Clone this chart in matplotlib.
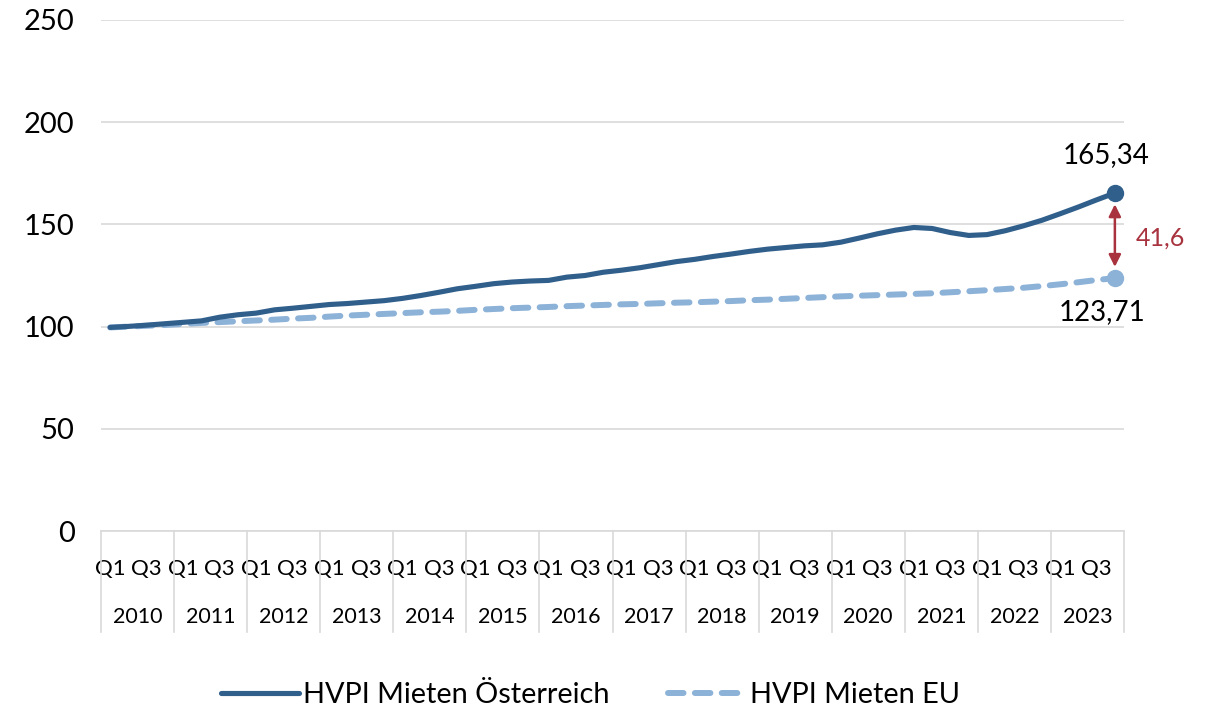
import matplotlib
matplotlib.use("Agg")
import matplotlib.pyplot as plt
from matplotlib.transforms import blended_transform_factory

plt.rcParams['font.family'] = ['Lato', 'DejaVu Sans']

years = list(range(2010, 2024))
quarters = ["Q1", "Q2", "Q3", "Q4"]

austria = [99.6, 100.1, 100.7, 101.4, 102.1, 102.8, 104.6, 105.8,
           106.6, 108.2, 109.0, 109.9, 110.8, 111.3, 112.0, 112.7,
           113.8, 115.2, 116.8, 118.5, 119.7, 121.0, 121.8, 122.3,
           122.6, 124.2, 125.0, 126.6, 127.6, 128.8, 130.3, 131.8,
           132.9, 134.3, 135.5, 136.8, 137.9, 138.7, 139.5, 140.0,
           141.3, 143.3, 145.4, 147.2, 148.5, 148.0, 146.0, 144.6,
           145.0, 146.9, 149.3, 152.0, 155.2, 158.5, 162.0, 165.34]

eu = [99.6, 100.0, 100.4, 100.8, 101.3, 101.8, 102.2, 102.6,
      103.0, 103.4, 103.9, 104.3, 104.9, 105.4, 105.8, 106.2,
      106.6, 107.0, 107.3, 107.7, 108.2, 108.6, 109.0, 109.3,
      109.6, 110.0, 110.3, 110.6, 110.9, 111.1, 111.4, 111.7,
      111.9, 112.2, 112.5, 112.9, 113.2, 113.6, 114.0, 114.4,
      114.8, 115.1, 115.4, 115.7, 116.0, 116.3, 116.8, 117.3,
      117.8, 118.4, 119.0, 119.8, 120.7, 121.7, 122.8, 123.71]

label_at = "41,6"
series_names = ["HVPI Mieten Österreich", "HVPI Mieten EU"]
yticks = [0, 50, 100, 150, 200, 250]

c_at = "#305f8c"
c_eu = "#8db2d8"
c_red = "#a8323e"
c_grid = "#d9d9d9"

fig = plt.figure(figsize=(12.15, 7.23), dpi=100)
ax = fig.add_axes([101/1215, 1-531/723, (1124-101)/1215, 511/723])

x = list(range(len(austria)))
ax.plot(x, austria, color=c_at, lw=3.7, solid_capstyle='round', solid_joinstyle='round',
        label=series_names[0], zorder=4)
ax.plot(x, eu, color=c_eu, lw=4.3, dashes=(2.6, 1.9), dash_capstyle='round',
        label=series_names[1], zorder=3)
ax.plot([x[-1]], [austria[-1]], 'o', color=c_at, ms=11.5, zorder=5)
ax.plot([x[-1]], [eu[-1]], 'o', color=c_eu, ms=11.5, zorder=5)

fmt = lambda v: f"{v:.2f}".replace(".", ",")
ax.text(x[-1] - 0.5, austria[-1] + 18.5, fmt(austria[-1]), ha='center', va='center',
        fontsize=20, color='black')
ax.text(x[-1] - 0.7, eu[-1] - 16.5, fmt(eu[-1]), ha='center', va='center',
        fontsize=20, color='black')

# gap arrow
ax.annotate("", xy=(x[-1], eu[-1] + 5.5), xytext=(x[-1], austria[-1] - 5.5),
            arrowprops=dict(arrowstyle='<|-|>', color=c_red, lw=1.8,
                            mutation_scale=18, shrinkA=0, shrinkB=0))
ax.text(x[-1] + 1.15, (austria[-1] + eu[-1]) / 2 - 1.0, label_at, ha='left', va='center',
        fontsize=18, color=c_red)

ax.set_ylim(0, 250)
ax.set_xlim(-0.5, len(austria) - 0.5)
ax.set_yticks(yticks)
ax.set_yticklabels([str(v) for v in yticks], fontsize=21)
ax.yaxis.grid(True, color=c_grid, lw=1.2)
ax.set_axisbelow(True)
ax.tick_params(axis='y', length=0, pad=19)
for s in ['top', 'right', 'left']:
    ax.spines[s].set_visible(False)
ax.spines['bottom'].set_color(c_grid)
ax.spines['bottom'].set_linewidth(1.2)

# x ticks: Q1 and Q3 labels
qpos = [i for i in x if i % 2 == 0]
ax.set_xticks(qpos)
ax.set_xticklabels([quarters[i % 4] for i in qpos], fontsize=16)
ax.tick_params(axis='x', length=0, pad=20)

trans = blended_transform_factory(ax.transData, ax.transAxes)
for k, yr in enumerate(years):
    ax.text(4 * k + 1.5, -0.168, str(yr), transform=trans, ha='center', va='center',
            fontsize=15.5)
for k in range(len(years) + 1):
    ax.plot([4 * k - 0.5, 4 * k - 0.5], [0, -0.198], transform=trans, color=c_grid,
            lw=1.2, clip_on=False)

leg = fig.legend(loc='lower center', bbox_to_anchor=(0.486, -0.015), ncol=2, frameon=False,
                 fontsize=20.8, handlelength=2.7, columnspacing=2.0, handletextpad=0.15)

fig.savefig("out.png", dpi=100)
